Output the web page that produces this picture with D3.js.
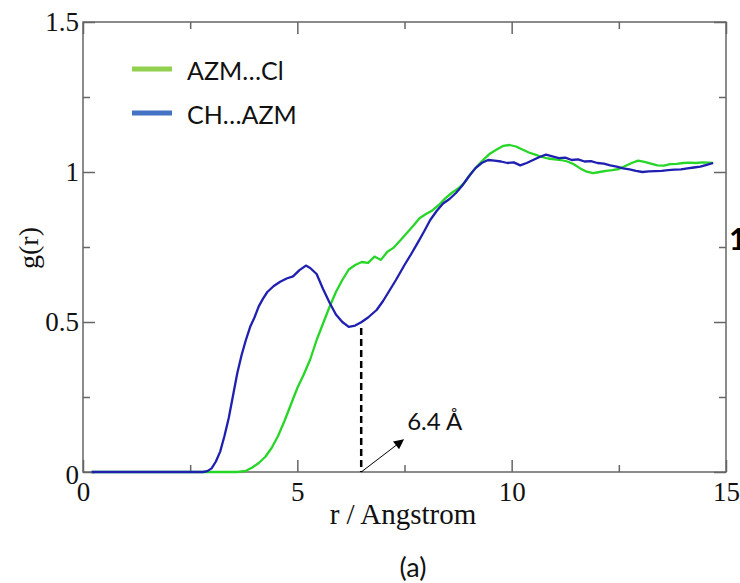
<!DOCTYPE html>
<html>
<head>
<meta charset="utf-8">
<script src="https://cdn.jsdelivr.net/npm/d3@7"></script>
<style>
  body { margin: 0; background: #fff; }
  svg { display: block; }
</style>
</head>
<body>
<div id="chart"></div>
<script>
// CH...AZM (blue) radial distribution
var rBlue = [0.2, 2.8, 2.9, 3.0, 3.1, 3.2, 3.3, 3.4, 3.5, 3.6, 3.7, 3.8, 3.9, 4.0, 4.1, 4.2, 4.3, 4.45, 4.6, 4.75, 4.9, 5.05, 5.2, 5.3, 5.45, 5.6, 5.75, 5.9, 6.05, 6.2, 6.35, 6.5, 6.65, 6.85, 7.0, 7.15, 7.3, 7.5, 7.65, 7.8, 7.95, 8.1, 8.25, 8.4, 8.55, 8.7, 8.85, 9.0, 9.15, 9.3, 9.45, 9.6, 9.75, 9.9, 10.05, 10.2, 10.35, 10.5, 10.65, 10.8, 10.95, 11.1, 11.25, 11.4, 11.55, 11.7, 11.85, 12.0, 12.15, 12.3, 12.45, 12.6, 12.75, 12.9, 13.05, 13.2, 13.35, 13.5, 13.65, 13.8, 13.95, 14.1, 14.25, 14.4, 14.55, 14.7];
var gBlue = [0, 0, 0.003, 0.012, 0.035, 0.068, 0.12, 0.18, 0.255, 0.33, 0.39, 0.44, 0.484, 0.515, 0.552, 0.578, 0.6, 0.62, 0.634, 0.645, 0.652, 0.673, 0.688, 0.68, 0.66, 0.61, 0.565, 0.525, 0.5, 0.484, 0.488, 0.5, 0.515, 0.54, 0.57, 0.605, 0.64, 0.69, 0.725, 0.762, 0.8, 0.84, 0.87, 0.895, 0.91, 0.93, 0.955, 0.985, 1.012, 1.03, 1.04, 1.038, 1.035, 1.03, 1.032, 1.022, 1.03, 1.04, 1.05, 1.058, 1.052, 1.046, 1.048, 1.04, 1.042, 1.035, 1.036, 1.03, 1.028, 1.022, 1.018, 1.012, 1.009, 1.004, 1.0, 1.002, 1.003, 1.004, 1.006, 1.008, 1.009, 1.012, 1.015, 1.018, 1.024, 1.03];

// AZM...Cl (green)
var rGreen = [0.2, 3.6, 3.8, 3.95, 4.1, 4.25, 4.4, 4.55, 4.7, 4.85, 5.0, 5.15, 5.3, 5.45, 5.6, 5.75, 5.9, 6.05, 6.2, 6.35, 6.5, 6.65, 6.8, 6.95, 7.1, 7.25, 7.4, 7.55, 7.7, 7.85, 8.0, 8.15, 8.3, 8.45, 8.6, 8.75, 8.9, 9.05, 9.2, 9.35, 9.5, 9.65, 9.8, 9.95, 10.1, 10.25, 10.4, 10.55, 10.7, 10.85, 11.0, 11.15, 11.3, 11.45, 11.6, 11.75, 11.9, 12.05, 12.2, 12.35, 12.5, 12.65, 12.8, 12.95, 13.1, 13.25, 13.4, 13.55, 13.7, 13.85, 14.0, 14.15, 14.3, 14.45, 14.6, 14.7];
var gGreen = [0, 0, 0.004, 0.015, 0.03, 0.05, 0.08, 0.12, 0.17, 0.225, 0.28, 0.325, 0.375, 0.44, 0.495, 0.55, 0.6, 0.64, 0.675, 0.69, 0.7, 0.697, 0.718, 0.707, 0.734, 0.748, 0.772, 0.796, 0.82, 0.846, 0.86, 0.872, 0.89, 0.912, 0.93, 0.945, 0.965, 0.995, 1.02, 1.042, 1.062, 1.075, 1.087, 1.09, 1.085, 1.075, 1.065, 1.058, 1.05, 1.045, 1.042, 1.04, 1.035, 1.026, 1.012, 1.001, 0.996, 1.0, 1.004, 1.006, 1.01, 1.02, 1.03, 1.038, 1.034, 1.028, 1.022, 1.021, 1.026, 1.027, 1.03, 1.031, 1.03, 1.032, 1.031, 1.03];

var seriesNames = ["AZM\u2026Cl", "CH\u2026AZM"];
var xTicks = [0, 5, 10, 15];
var xMinor = [2.5, 7.5, 12.5];
var yTicks = [0, 0.5, 1, 1.5];
var yMinor = [0.25, 0.75, 1.25];
var marker = {r: 6.49, g: 0.48, label: "6.4 \u00C5"};
var arrowEnd = {r: 7.47, g: 0.107};

var svgWidth = 740, svgHeight = 583;
var margin = {top: 22, right: 14, bottom: 111, left: 83},
  width = svgWidth - margin.left - margin.right,
  height = svgHeight - margin.top - margin.bottom;

var svg = d3.select("#chart").append("svg")
    .attr("width", svgWidth)
    .attr("height", svgHeight);

svg.append("defs").append("marker")
    .attr("id", "arrowhead")
    .attr("viewBox", "0 0 10 10")
    .attr("refX", 9).attr("refY", 5)
    .attr("markerWidth", 12).attr("markerHeight", 10)
    .attr("markerUnits", "userSpaceOnUse")
    .attr("orient", "auto")
  .append("path")
    .attr("d", "M0,0 L10,5 L0,10 z")
    .attr("fill", "#000");

var g = svg.append("g")
    .attr("transform", `translate(${margin.left},${margin.top})`);

var x = d3.scaleLinear().domain([0, 15]).range([0, width]);
var y = d3.scaleLinear().domain([0, 1.5]).range([height, 0]);

var serif = "'Liberation Serif', 'Times New Roman', serif";
var sans = "Lato, 'Open Sans', sans-serif";

// axes, ticks pointing inward on all four sides
function styleAxis(sel) {
  sel.select(".domain").remove();
  sel.selectAll(".tick line").attr("stroke", "#666").attr("stroke-width", 1.5);
  sel.selectAll(".tick text").attr("fill", "#111").style("font-family", serif).style("font-size", "27px");
}

g.append("g").attr("transform", `translate(0,${height})`)
  .call(d3.axisBottom(x).tickValues(xTicks).tickSize(-12).tickPadding(10).tickFormat(d3.format("d")))
  .call(styleAxis);
g.append("g").attr("transform", `translate(0,${height})`)
  .call(d3.axisBottom(x).tickValues(xMinor).tickSize(-7).tickFormat(""))
  .call(styleAxis);
g.append("g")
  .call(d3.axisTop(x).tickValues(xTicks).tickSize(-12).tickFormat(""))
  .call(styleAxis);
g.append("g")
  .call(d3.axisTop(x).tickValues(xMinor).tickSize(-7).tickFormat(""))
  .call(styleAxis);
g.append("g")
  .call(d3.axisLeft(y).tickValues(yTicks).tickSize(-12).tickPadding(4).tickFormat(d3.format("")))
  .call(styleAxis)
  .call(ax => ax.selectAll(".tick text").filter(d => d === 0).attr("y", 3));
g.append("g")
  .call(d3.axisLeft(y).tickValues(yMinor).tickSize(-7).tickFormat(""))
  .call(styleAxis);
g.append("g").attr("transform", `translate(${width},0)`)
  .call(d3.axisRight(y).tickValues(yTicks).tickSize(-12).tickFormat(""))
  .call(styleAxis);
g.append("g").attr("transform", `translate(${width},0)`)
  .call(d3.axisRight(y).tickValues(yMinor).tickSize(-7).tickFormat(""))
  .call(styleAxis);

// frame
g.append("rect")
  .attr("width", width).attr("height", height)
  .attr("fill", "none").attr("stroke", "#666").attr("stroke-width", 1.5);

// curves
var line = d3.line().x(d => x(d[0])).y(d => y(d[1]));
var greenData = rGreen.map((r, i) => [r, gGreen[i]]);
var blueData = rBlue.map((r, i) => [r, gBlue[i]]);

g.append("path").datum(greenData)
  .attr("fill", "none").attr("stroke", "#27d627").attr("stroke-width", 2.3)
  .attr("stroke-linejoin", "round")
  .attr("d", line);
g.append("path").datum(blueData)
  .attr("fill", "none").attr("stroke", "#1f1fb0").attr("stroke-width", 2.3)
  .attr("stroke-linejoin", "round")
  .attr("d", line);

// dashed marker + arrow
g.append("line")
  .attr("x1", x(marker.r)).attr("x2", x(marker.r))
  .attr("y1", y(marker.g)).attr("y2", y(0))
  .attr("stroke", "#000").attr("stroke-width", 2.5)
  .attr("stroke-dasharray", "7,4");
g.append("line")
  .attr("x1", x(marker.r)).attr("y1", y(0))
  .attr("x2", x(arrowEnd.r)).attr("y2", y(arrowEnd.g))
  .attr("stroke", "#000").attr("stroke-width", 1)
  .attr("marker-end", "url(#arrowhead)");
g.append("text")
  .attr("x", x(arrowEnd.r) + 4).attr("y", y(arrowEnd.g) - 10)
  .style("font-family", sans).style("font-size", "24px").attr("fill", "#111")
  .text(marker.label);

// legend
var legendColors = ["#92d050", "#4472c4"];
seriesNames.forEach((name, i) => {
  var ly = 47 + i * 44;
  g.append("line")
    .attr("x1", 49).attr("x2", 89).attr("y1", ly).attr("y2", ly)
    .attr("stroke", legendColors[i]).attr("stroke-width", 5);
  g.append("text")
    .attr("x", 104).attr("y", ly + 11)
    .style("font-family", sans).style("font-size", "25px").attr("fill", "#111")
    .text(name);
});

// axis titles
svg.append("text")
  .attr("x", 403).attr("y", 524)
  .attr("text-anchor", "middle")
  .style("font-family", serif).style("font-size", "29px").attr("fill", "#111")
  .text("r / Angstrom");
svg.append("text")
  .attr("transform", "translate(38,248) rotate(-90)")
  .attr("text-anchor", "middle")
  .style("font-family", serif).style("font-size", "28px").attr("fill", "#111")
  .text("g(r)");

// panel label and cropped neighbour label
svg.append("text")
  .attr("x", 413).attr("y", 577)
  .attr("text-anchor", "middle")
  .style("font-family", sans).style("font-size", "27px").attr("fill", "#111")
  .text("(a)");
svg.append("text")
  .attr("x", 729).attr("y", 250)
  .style("font-family", sans).style("font-size", "30px").style("font-weight", "bold").attr("fill", "#000")
  .text("1");
</script>
</body>
</html>
